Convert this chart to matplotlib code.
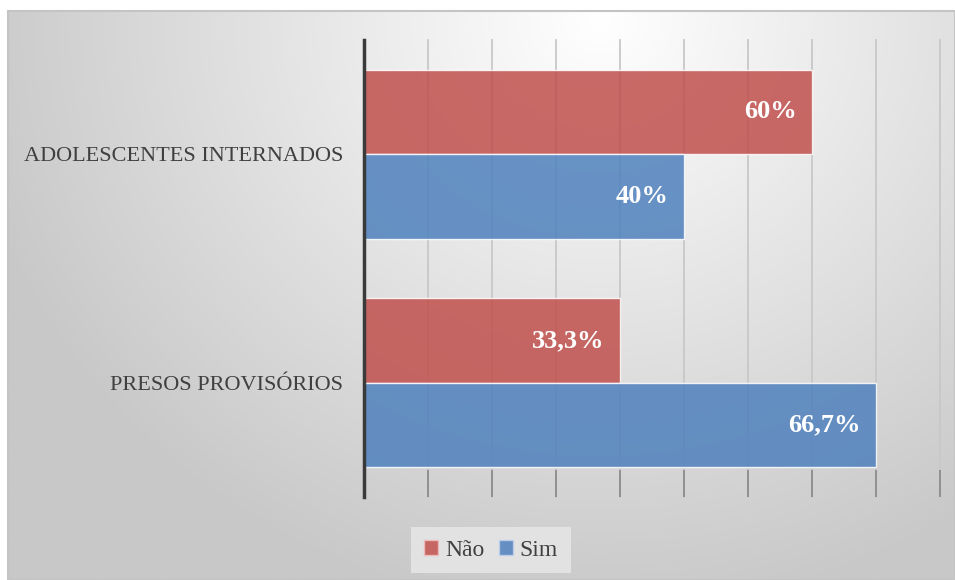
import numpy as np
import matplotlib
matplotlib.use("Agg")
import matplotlib.pyplot as plt
from matplotlib.patches import Patch, Rectangle
from matplotlib.font_manager import FontProperties

# ---- data ----
categories = ["PRESOS PROVISÓRIOS", "ADOLESCENTES INTERNADOS"]
series_names = ["Não", "Sim"]
# bar lengths as drawn on the axis (axis units, 0-9 grid)
nao_lengths = [4.0, 7.0]
sim_lengths = [8.0, 5.0]
nao_labels = ["33,3%", "60%"]
sim_labels = ["66,7%", "40%"]
grid_ticks = list(range(0, 10))

nao_color = "#C0504D"
sim_color = "#4F81BD"
FONT = ["Liberation Serif", "DejaVu Serif"]
plt.rcParams["font.family"] = FONT

W, H = 955, 580
fig = plt.figure(figsize=(W / 100, H / 100), dpi=100)
fig.patch.set_facecolor("white")

# ---- background with radial gradient ----
bg = fig.add_axes([8 / W, 0, (W - 8) / W, (H - 11) / H], zorder=0)
xs = np.linspace(8, W, 400)
ys = np.linspace(11, H, 300)
X, Y = np.meshgrid(xs, ys)
r = np.sqrt(((X - 600) / 650) ** 2 + ((Y - 20) / 600) ** 2)
v = 255 - 55 * np.clip(r, 0, 1)
img = np.dstack([v, v, v]) / 255.0
bg.imshow(img, aspect="auto", extent=[0, 1, 0, 1], origin="upper")
bg.set_xlim(0, 1)
bg.set_ylim(0, 1)
bg.axis("off")
bg.add_patch(Rectangle((0, 0), 1, 1, transform=bg.transAxes, fill=False,
                       edgecolor="#c4c4c4", lw=1.5, clip_on=False))

# ---- main axes ----
left, right = 364 / W, 940 / W
top, bottom = 1 - 40 / H, 1 - 497 / H
ax = fig.add_axes([left, bottom, right - left, top - bottom], zorder=1)
ax.patch.set_alpha(0)

y = np.arange(len(categories))
h = 0.371
off = 0.185

for gx in grid_ticks[1:]:
    ax.axvline(gx, color="#c8c8c8", lw=1.3, zorder=1, clip_on=False)

bars_n = ax.barh(y + off, nao_lengths, height=h, color=nao_color, alpha=0.85,
                 edgecolor=(1, 1, 1, 0.35), linewidth=1.0, zorder=2)
bars_s = ax.barh(y - off, sim_lengths, height=h, color=sim_color, alpha=0.85,
                 edgecolor=(1, 1, 1, 0.35), linewidth=1.0, zorder=2)

for bars, labels in ((bars_n, nao_labels), (bars_s, sim_labels)):
    for b, lab in zip(bars, labels):
        ax.annotate(lab, (b.get_width(), b.get_y() + b.get_height() / 2),
                    xytext=(-11, 0), textcoords="offset points",
                    ha="right", va="center", color="white", fontsize=19,
                    fontweight="bold", family=FONT, zorder=3)

ax.set_xlim(0, 9)
ax.set_ylim(-0.5, 1.5)
ax.set_xticks(grid_ticks)
ax.set_xticklabels([])
ax.tick_params(axis="x", direction="in", length=19.5, width=1.3,
               color="#8c8c8c", bottom=True)
ax.set_yticks(y)
ax.set_yticklabels(categories, family=FONT, fontsize=16.0, color="#404040")
ax.tick_params(axis="y", length=0, pad=15)

for s in ("top", "right", "bottom"):
    ax.spines[s].set_visible(False)
ax.spines["left"].set_color("#3a3a3a")
ax.spines["left"].set_linewidth(2.5)
ax.spines["left"].set_zorder(4)

# ---- legend ----
handles = [Patch(facecolor=nao_color, alpha=0.85, edgecolor="#f0c0c0"),
           Patch(facecolor=sim_color, alpha=0.85, edgecolor="#c0d0f0")]
leg = fig.legend(handles, series_names, loc="center",
                 bbox_to_anchor=(491 / W, 1 - 550 / H), ncol=2,
                 frameon=True, fancybox=False, handlelength=0.6,
                 handleheight=0.6, handletextpad=0.3, columnspacing=0.6,
                 borderpad=0.55, prop=FontProperties(family="Liberation Serif", size=17))
leg.get_frame().set_facecolor("#e2e2e2")
leg.get_frame().set_edgecolor("none")
leg.get_frame().set_alpha(1)
for t in leg.get_texts():
    t.set_color("#404040")
    t.set_fontfamily("Liberation Serif")
    t.set_fontsize(17)

fig.savefig("out.png", dpi=100)
